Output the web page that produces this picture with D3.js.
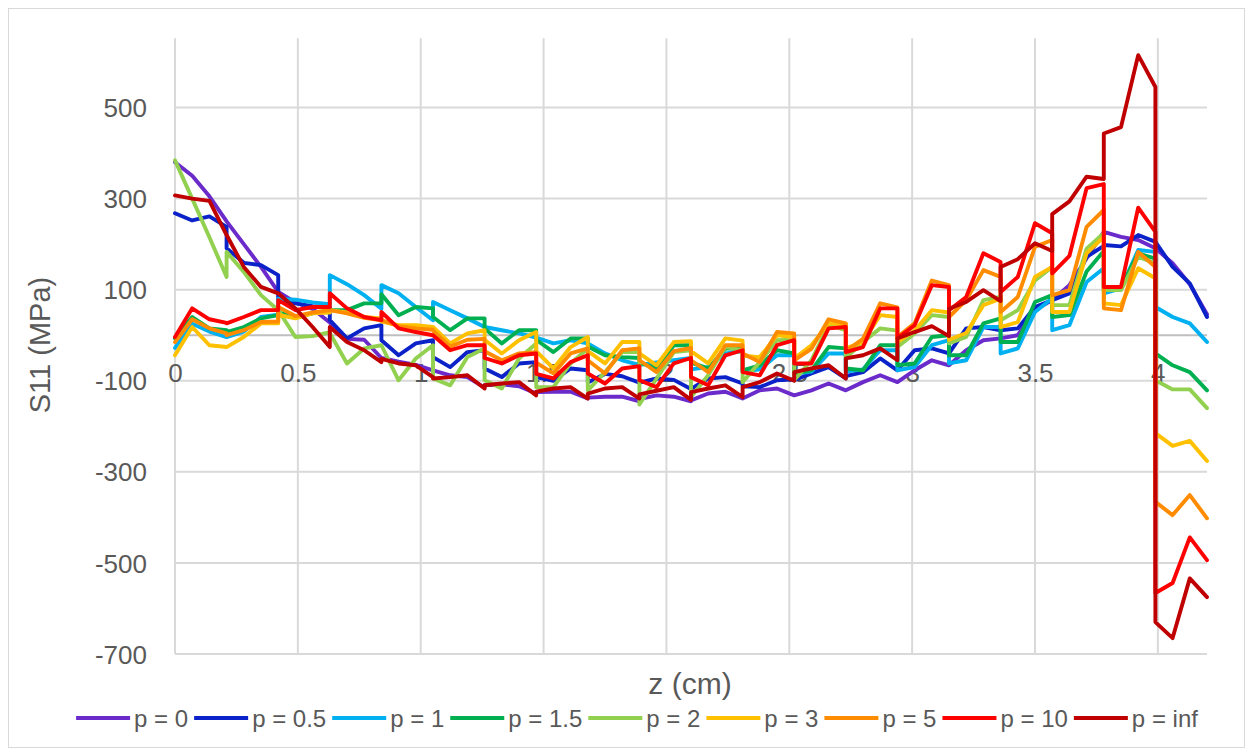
<!DOCTYPE html>
<html>
<head>
<meta charset="utf-8">
<script src="https://cdn.jsdelivr.net/npm/d3@7"></script>
<style>
html,body{margin:0;padding:0;background:#fff;}
svg{display:block;}
text{font-family:"Liberation Sans",Arial,sans-serif;fill:#595959;}
</style>
</head>
<body>
<svg id="chart" width="1253" height="756"></svg>
<script>
// z positions (cm) of the result points, element by element
const zs = [0,0.07,0.14,0.21, 0.21,0.28,0.35,0.42, 0.42,0.49,0.56,0.63, 0.63,0.70,0.77,0.84,
  0.84,0.91,0.98,1.05, 1.05,1.12,1.19,1.26, 1.26,1.33,1.40,1.47, 1.47,1.54,1.61,1.68,
  1.68,1.75,1.82,1.89, 1.89,1.96,2.03,2.10, 2.10,2.17,2.24,2.31, 2.31,2.38,2.45,2.52,
  2.52,2.59,2.66,2.73, 2.73,2.80,2.87,2.94, 2.94,3.01,3.08,3.15, 3.15,3.22,3.29,3.36,
  3.36,3.43,3.50,3.57, 3.57,3.64,3.71,3.78, 3.78,3.85,3.92,3.99, 3.99,4.06,4.13,4.20];

const p0 = [380,350,305,250, 250,200,150,95, 95,72,58,28, 28,-8,-10,-50,
  -50,-58,-65,-77, -77,-88,-92,-115, -110,-108,-112,-128, -125,-124,-124,-139,
  -137,-135,-135,-145, -140,-132,-135,-145, -143,-128,-124,-139, -139,-121,-117,-132,
  -132,-121,-106,-121, -121,-103,-88,-103, -103,-77,-55,-66, -66,-33,-11,-7,
  -7,0,55,77, 77,110,169,227, 227,216,209,191, 191,158,112,46];
const p05 = [268,252,261,238, 191,159,154,132, 80,70,64,62, 33,-7,15,22,
  -11,-44,-18,-11, -48,-70,-37,-33, -73,-92,-62,-59, -92,-100,-73,-77,
  -104,-85,-90,-104, -104,-95,-98,-118, -118,-95,-92,-106, -112,-114,-99,-97,
  -99,-84,-70,-95, -90,-81,-51,-77, -77,-33,-29,-40, -40,15,18,11,
  11,15,62,77, 77,92,172,196, 198,195,220,205, 205,150,114,40];
const p1 = [-28,25,8,-4, -4,8,40,45, 80,78,72,68, 132,112,88,58,
  110,92,62,33, 73,55,37,18, 18,11,4,-5, -5,-18,-11,-18,
  -18,-40,-55,-65, -65,-60,-55,-50, -75,-70,-40,-35, -80,-75,-44,-44,
  -85,-80,-40,-40, -80,-75,-33,-33, -77,-70,-22,-11, -62,-55,18,18,
  -40,-29,51,81, 11,22,117,147, 92,103,187,183, 62,40,26,-15];
const p15 = [-7,40,15,11, 7,18,37,44, 50,40,48,55, 55,55,70,70,
  90,44,62,59, 40,11,37,37, 15,-18,11,11, -10,-37,-7,-7,
  -25,-44,-48,-50, -60,-73,-22,-22, -60,-73,-29,-29, -77,-66,-33,-40,
  -84,-77,-26,-29, -73,-77,-22,-22, -66,-62,-4,0, -44,-44,26,37,
  -15,-15,73,88, 40,44,140,185, 100,105,180,168, -40,-66,-81,-121];
const p2 = [384,300,215,128, 183,139,88,55, 55,-4,-2,7, 5,-62,-29,-22,
  -22,-99,-51,-22, -95,-110,-48,-29, -99,-117,-51,-18, -114,-114,-62,-29,
  -121,-81,-37,-37, -152,-95,-37,-33, -136,-88,-26,-33, -103,-59,-11,-10,
  -99,-55,22,11, -50,-15,15,10, -26,4,44,40, -18,-4,77,84,
  33,55,120,150, 66,66,190,224, 99,99,172,158, -99,-119,-119,-160];
const p3 = [-44,18,-22,-26, -26,-4,26,26, 45,37,48,50, 55,50,40,37,
  30,22,22,18, 18,-18,4,11, -10,-40,-11,7, -35,-73,-26,-4,
  -35,-62,-15,-15, -40,-66,-15,-13, -35,-62,-7,-12, -45,-48,0,-4,
  -51,-22,26,24, -29,-15,44,40, -15,10,55,50, -10,5,66,80,
  18,29,128,150, 51,51,180,216, 70,66,147,125, -215,-243,-232,-276];
const p5 = [-15,35,15,4, 0,11,29,30, 62,42,50,55, 55,48,38,33,
  33,20,15,12, 10,-25,-10,-8, -35,-55,-40,-37, -60,-84,-40,-29,
  -55,-84,-33,-29, -55,-81,-35,-28, -55,-81,-22,-22, -40,-59,7,4,
  -55,-30,35,26, -35,-8,70,61, -4,26,120,110, 40,77,143,128,
  51,84,194,209, 88,99,238,275, 59,55,183,150, -366,-395,-351,-402];
const p10 = [-4,59,35,27, 26,40,55,55, 77,55,62,62, 92,59,40,33,
  51,15,7,0, 0,-33,-22,-22, -50,-62,-44,-40, -85,-95,-59,-44,
  -84,-106,-73,-68, -99,-114,-62,-50, -92,-110,-44,-33, -81,-88,-22,-11,
  -62,-62,15,18, -37,-26,59,59, -7,22,110,106, 55,84,180,161,
  95,128,246,224, 136,174,323,332, 106,106,280,227, -566,-544,-444,-494];
const pinf = [307,300,295,220, 220,150,106,92, 92,59,18,-26, 18,-15,-33,-59,
  -52,-62,-66,-92, -95,-92,-88,-117, -110,-106,-103,-132, -124,-117,-114,-139,
  -128,-117,-114,-139, -130,-122,-114,-142, -125,-117,-110,-136, -114,-103,-84,-100,
  -81,-73,-66,-95, -51,-44,-29,-55, -7,7,20,-2, 58,73,99,75,
  150,167,202,185, 266,294,348,343, 443,457,615,545, -630,-665,-534,-575];

const seriesNames = ["p = 0","p = 0.5","p = 1","p = 1.5","p = 2","p = 3","p = 5","p = 10","p = inf"];
const seriesValues = [p0,p05,p1,p15,p2,p3,p5,p10,pinf];
const seriesColors = ["#6B2BCB","#0A22C8","#00B0F0","#00B050","#92D050","#FFC000","#FF8C00","#FF0000","#C00000"];
const xTicks = [0,0.5,1,1.5,2,2.5,3,3.5,4];
const yTicks = [-700,-500,-300,-100,100,300,500];

const svg = d3.select("#chart");
const W = 1253, H = 756;
const plot = {left:175, right:1207, top:38.3, bottom:654};

// chart border
svg.append("rect").attr("x",8.5).attr("y",8.5).attr("width",W-17).attr("height",H-17)
  .attr("fill","#fff").attr("stroke","#d9d9d9").attr("stroke-width",1);

const x = d3.scaleLinear().domain([0,4.2]).range([plot.left, plot.right]);
const y = d3.scaleLinear().domain([-700,652]).range([plot.bottom, plot.top]);

// gridlines
const g = svg.append("g");
g.selectAll("line.vg").data(xTicks).join("line")
  .attr("x1",d=>x(d)).attr("x2",d=>x(d)).attr("y1",plot.top).attr("y2",plot.bottom)
  .attr("stroke","#d9d9d9").attr("stroke-width",2);
g.selectAll("line.hg").data(yTicks).join("line")
  .attr("x1",plot.left).attr("x2",plot.right).attr("y1",d=>y(d)).attr("y2",d=>y(d))
  .attr("stroke","#d9d9d9").attr("stroke-width",2);
// horizontal axis line at 0
g.append("line").attr("x1",plot.left).attr("x2",plot.right).attr("y1",y(0)).attr("y2",y(0))
  .attr("stroke","#bfbfbf").attr("stroke-width",2);

// tick labels
const xAxis = d3.axisBottom(x).tickValues(xTicks).tickSize(0).tickPadding(0)
  .tickFormat(d=>String(d));
const xg = svg.append("g").attr("transform",`translate(0,${y(0)})`).call(xAxis);
xg.select(".domain").remove();
xg.selectAll("text").attr("dy",null).attr("y",47).style("font-size","26px")
  .style("font-family","'Liberation Sans',Arial,sans-serif").attr("fill","#595959");

const yAxis = d3.axisLeft(y).tickValues(yTicks).tickSize(0).tickPadding(0)
  .tickFormat(d=>String(d));
const yg = svg.append("g").attr("transform",`translate(147,0)`).call(yAxis);
yg.select(".domain").remove();
yg.selectAll("text").attr("dy","0.35em").attr("x",0).style("font-size","26px")
  .style("font-family","'Liberation Sans',Arial,sans-serif").attr("fill","#595959");

// lines
const line = d3.line().x((d,i)=>x(zs[i])).y(d=>y(d));
svg.append("g").selectAll("path").data(seriesValues).join("path")
  .attr("d",d=>line(d)).attr("fill","none")
  .attr("stroke",(d,i)=>seriesColors[i]).attr("stroke-width",3.9)
  .attr("stroke-linejoin","round").attr("stroke-linecap","round");

// axis titles
svg.append("text").attr("x",690).attr("y",694).attr("text-anchor","middle")
  .style("font-size","30px").text("z (cm)");
svg.append("text").attr("transform","translate(50,345) rotate(-90)").attr("text-anchor","middle")
  .style("font-size","29px").text("S11 (MPa)");

// legend
const lg = svg.append("g");
const items = lg.selectAll("g").data(seriesNames).join("g");
items.append("line").attr("x1",0).attr("x2",54).attr("y1",0).attr("y2",0)
  .attr("stroke",(d,i)=>seriesColors[i]).attr("stroke-width",4);
items.append("text").attr("x",58).attr("y",8.5).style("font-size","24px").text(d=>d);
let cx = 0;
items.each(function(){
  const t = d3.select(this).select("text").node().getComputedTextLength();
  d3.select(this).attr("data-x",cx);
  cx += 58 + t + 6;
});
const total = cx - 6;
const start = 637 - total/2;
items.attr("transform",function(){return `translate(${start + (+d3.select(this).attr("data-x"))},718)`;});
</script>
</body>
</html>
